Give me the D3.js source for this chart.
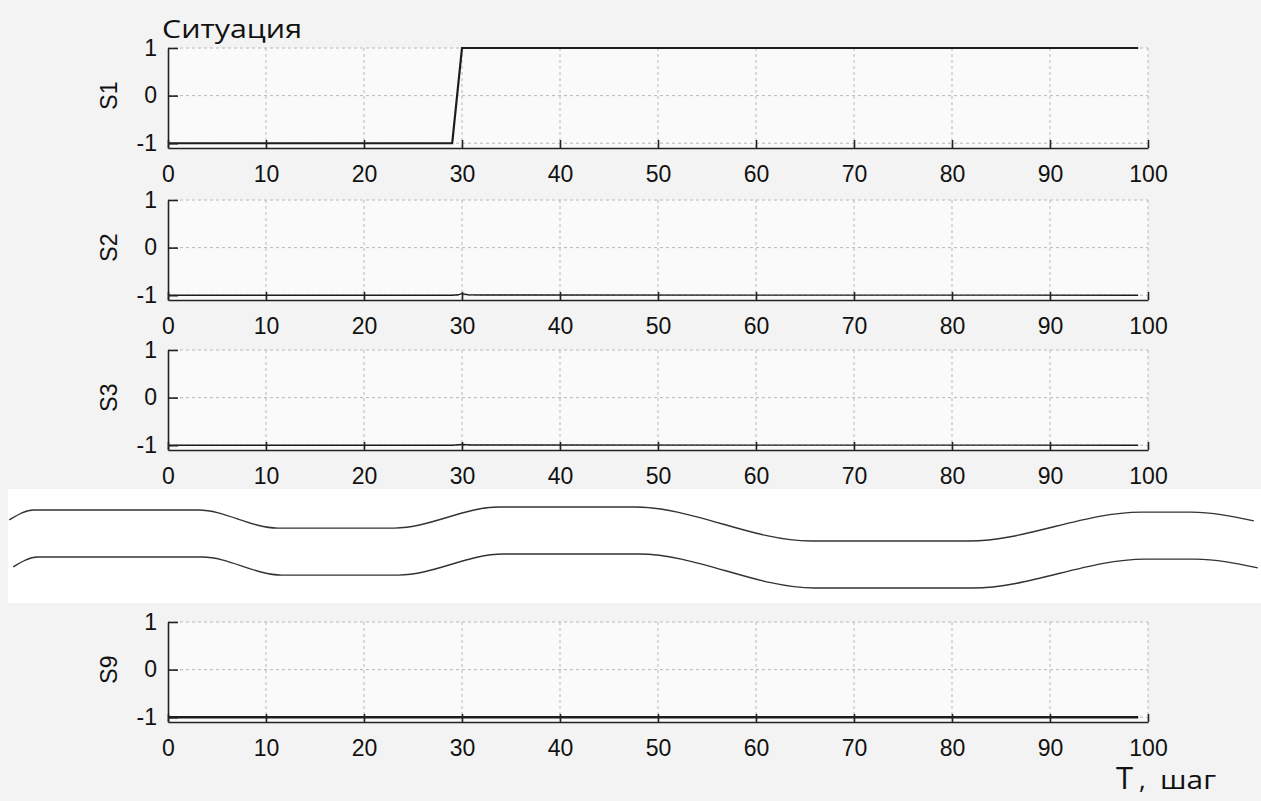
<!DOCTYPE html>
<html>
<head>
<meta charset="utf-8">
<script src="https://cdn.jsdelivr.net/npm/d3@7/dist/d3.min.js"></script>
<style>
  html, body { margin: 0; padding: 0; background: #f4f4f4; }
  svg { display: block; }
</style>
</head>
<body>
<svg id="chart" width="1261" height="801"></svg>
<script>
// ---------- DATA ----------
const xTicks = [0, 10, 20, 30, 40, 50, 60, 70, 80, 90, 100];
const yTicks = [1, 0, -1];
const yTickLabels = ["1", "0", "-1"];
const panelNames = ["S1", "S2", "S3", "S9"];

// step samples (time step, value)
const s1T = [0, 29, 30, 99];
const s1V = [-1, -1, 1, 1];
const s2T = [0, 29, 29.6, 30, 30.6, 32, 36, 99];
const s2V = [-1, -1, -0.99, -0.965, -0.99, -0.995, -0.995, -1];
const s3T = [0, 29, 30, 31, 33, 99];
const s3V = [-1, -1, -0.985, -0.995, -0.995, -1];
const s9T = [0, 99];
const s9V = [-1, -1];

// break (omitted panels S4..S8) wave: time position and relative level
const breakT = [-16.2, -13.7, 3.1, 11.2, 23.1, 33.8, 47.6, 65.6, 81.7, 99.3, 104.4, 110.8];
const breakLevel = [0.62, 0.91, 0.91, 0.38, 0.38, 1.0, 1.0, 0.0, 0.0, 0.85, 0.85, 0.59];

const seriesT = [s1T, s2T, s3T, s9T];
const seriesV = [s1V, s2V, s3V, s9V];
const seriesWidth = [2.2, 1.3, 1.3, 2.4];

// ---------- LAYOUT ----------
const svg = d3.select("#chart");
const W = 1261, H = 801;
const x = d3.scaleLinear().domain([0, 100]).range([168, 1148]);
const panelTops = [48, 200, 350, 622];
const panelH = 100;
const gridColor = "#b8b8b8";
const axisColor = "#222";
const font = "'Liberation Sans', Arial, Helvetica, sans-serif";

svg.append("rect").attr("x", 0).attr("y", 0).attr("width", W).attr("height", H).attr("fill", "#f3f3f3");
// break band (white)
svg.append("rect").attr("x", 8).attr("y", 489).attr("width", W - 8).attr("height", 114).attr("fill", "#ffffff");

panelTops.forEach((top, i) => {
  const y = d3.scaleLinear().domain([-1.1, 1]).range([top + panelH, top]);
  const g = svg.append("g");

  g.append("rect").attr("x", x(0)).attr("y", y(1)).attr("width", x(100) - x(0))
    .attr("height", y(-1.1) - y(1)).attr("fill", "#fafafa");

  g.selectAll(".vg").data(xTicks.slice(1)).enter().append("line")
    .attr("x1", d => x(d)).attr("x2", d => x(d))
    .attr("y1", y(1)).attr("y2", y(-1.1))
    .attr("stroke", gridColor).attr("stroke-width", 1).attr("stroke-dasharray", "3,3");
  g.selectAll(".hg").data(yTicks).enter().append("line")
    .attr("x1", x(0)).attr("x2", x(100))
    .attr("y1", d => y(d)).attr("y2", d => y(d))
    .attr("stroke", gridColor).attr("stroke-width", 1).attr("stroke-dasharray", "3,3");

  const pts = seriesT[i].map((t, k) => [t, seriesV[i][k]]);
  g.append("path").datum(pts)
    .attr("d", d3.line().x(d => x(d[0])).y(d => y(d[1])))
    .attr("fill", "none").attr("stroke", "#1c1c1c").attr("stroke-width", seriesWidth[i]);

  const xa = g.append("g").attr("transform", `translate(0,${y(-1.1)})`)
    .call(d3.axisBottom(x).tickValues(xTicks).tickSize(-8).tickSizeOuter(0).tickPadding(18)
      .tickFormat(d3.format("d")));
  const ya = g.append("g").attr("transform", `translate(${x(0)},0)`)
    .call(d3.axisLeft(y).tickValues(yTicks).tickSize(-10).tickSizeOuter(0).tickPadding(11)
      .tickFormat((d, k) => yTickLabels[k]));
  [xa, ya].forEach(a => {
    a.select(".domain").attr("stroke", axisColor).attr("stroke-width", 1.6);
    a.selectAll(".tick line").attr("stroke", axisColor).attr("stroke-width", 1.6);
    a.selectAll(".tick text").attr("fill", "#111").style("font-family", font).style("font-size", "23px");
  });

  g.append("text")
    .attr("transform", `translate(117,${y(0)}) rotate(-90)`)
    .attr("text-anchor", "middle")
    .style("font-family", font).style("font-size", "23px").attr("fill", "#111")
    .text(panelNames[i]);
});

// break waves
const yb1 = d3.scaleLinear().domain([0, 1]).range([541, 507]);
const yb2 = d3.scaleLinear().domain([0, 1]).range([588, 554]);
const xShift = 0.4;
const wave = breakT.map((t, k) => [t, breakLevel[k]]);
svg.append("path").datum(wave)
  .attr("d", d3.line().curve(d3.curveMonotoneX).x(d => x(d[0])).y(d => yb1(d[1])))
  .attr("fill", "none").attr("stroke", "#333").attr("stroke-width", 1.4);
svg.append("path").datum(wave)
  .attr("d", d3.line().curve(d3.curveMonotoneX).x(d => x(d[0] + xShift)).y(d => yb2(d[1])))
  .attr("fill", "none").attr("stroke", "#333").attr("stroke-width", 1.4);

// title
svg.append("text").attr("x", 162).attr("y", 38)
  .attr("textLength", 140).attr("lengthAdjust", "spacingAndGlyphs")
  .style("font-family", "'Open Sans', 'Noto Sans', sans-serif").style("font-size", "25px")
  .attr("fill", "#111").text("Ситуация");

// x axis label
const xl = svg.append("text").attr("y", 789)
  .style("font-family", "'Open Sans', 'Noto Sans', sans-serif").attr("fill", "#111");
xl.append("tspan").attr("x", 1116).style("font-size", "31px").text("Т");
xl.append("tspan").attr("x", 1139).style("font-size", "26px").text(",");
xl.append("tspan").attr("x", 1160).attr("textLength", 56).attr("lengthAdjust", "spacingAndGlyphs")
  .style("font-size", "26px").text("шаг");
</script>
</body>
</html>
